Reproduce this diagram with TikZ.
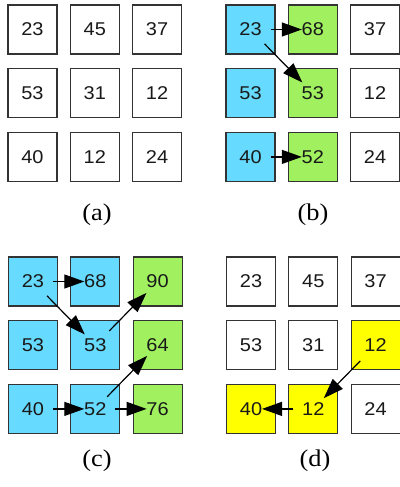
\documentclass[tikz,border=0pt]{standalone}
\usepackage{fontspec}
\setsansfont{Liberation Sans}[FakeStretch=1.08]
\setmainfont{Liberation Serif}[FakeStretch=1.1]
\usetikzlibrary{arrows.meta}
\definecolor{cyanbox}{RGB}{102,218,255}
\definecolor{greenbox}{RGB}{160,240,96}
\definecolor{yellowbox}{RGB}{255,255,0}
\definecolor{bordergray}{RGB}{51,51,51}
\tikzset{
  cell/.style={draw=bordergray, line width=1.1pt, minimum size=49pt, inner sep=0pt,
    font=\fontsize{18.5}{18.5}\selectfont\sffamily, text=black!90},
  cy/.style={cell, fill=cyanbox},
  gr/.style={cell, fill=greenbox},
  ye/.style={cell, fill=yellowbox},
  wh/.style={cell, fill=white},
  arr/.style={line width=1.2pt, -{Triangle[length=20pt,width=14pt]}, shorten <=20pt, shorten >=11pt},
  lbl/.style={font=\fontsize{24}{24}\selectfont\rmfamily}
}
\begin{document}
\begin{tikzpicture}[x=1pt,y=-1pt]
\useasboundingbox[fill=white] (0,0) rectangle (399,487);
% panel (a)
\begin{scope}[shift={(32.5,29.5)}]
\node[wh] (a11) at (0,0) {23};
\node[wh] (a12) at (62.3,0) {45};
\node[wh] (a13) at (124.6,0) {37};
\node[wh] (a21) at (0,63.7) {53};
\node[wh] (a22) at (62.3,63.7) {31};
\node[wh] (a23) at (124.6,63.7) {12};
\node[wh] (a31) at (0,127.4) {40};
\node[wh] (a32) at (62.3,127.4) {12};
\node[wh] (a33) at (124.6,127.4) {24};
\end{scope}
\node[lbl] (la) at (97,215) {(a)};
% panel (b)
\begin{scope}[shift={(250.5,29.5)}]
\node[cy] (b11) at (0,0) {23};
\node[gr] (b12) at (62.3,0) {68};
\node[wh] (b13) at (124.6,0) {37};
\node[cy] (b21) at (0,63.7) {53};
\node[gr] (b22) at (62.3,63.7) {53};
\node[wh] (b23) at (124.6,63.7) {12};
\node[cy] (b31) at (0,127.4) {40};
\node[gr] (b32) at (62.3,127.4) {52};
\node[wh] (b33) at (124.6,127.4) {24};
\end{scope}
\node[lbl] (lb) at (313,215) {(b)};
\draw[arr] (b11.center) -- (b12.center);
\draw[arr, shorten >=15pt] (b11.center) -- (b22.center);
\draw[arr] (b31.center) -- (b32.center);
% panel (c)
\begin{scope}[shift={(33,281.5)}]
\node[cy] (c11) at (0,0) {23};
\node[cy] (c12) at (62.3,0) {68};
\node[gr] (c13) at (124.6,0) {90};
\node[cy] (c21) at (0,63.7) {53};
\node[cy] (c22) at (62.3,63.7) {53};
\node[gr] (c23) at (124.6,63.7) {64};
\node[cy] (c31) at (0,127.4) {40};
\node[cy] (c32) at (62.3,127.4) {52};
\node[gr] (c33) at (124.6,127.4) {76};
\end{scope}
\node[lbl] (lc) at (97,461) {(c)};
\draw[arr] (c11.center) -- (c12.center);
\draw[arr, shorten >=15pt] (c11.center) -- (c22.center);
\draw[arr] (c31.center) -- (c32.center);
\draw[arr] (c32.center) -- (c33.center);
\draw[arr, shorten <=17pt, shorten >=15pt] (c32.center) -- (c23.center);
\draw[arr, shorten >=16pt] (c22.center) -- (c13.center);
% panel (d)
\begin{scope}[shift={(251,281.5)}]
\node[wh] (d11) at (0,0) {23};
\node[wh] (d12) at (62.3,0) {45};
\node[wh] (d13) at (124.6,0) {37};
\node[wh] (d21) at (0,63.7) {53};
\node[wh] (d22) at (62.3,63.7) {31};
\node[ye] (d23) at (124.6,63.7) {12};
\node[ye] (d31) at (0,127.4) {40};
\node[ye] (d32) at (62.3,127.4) {12};
\node[wh] (d33) at (124.6,127.4) {24};
\end{scope}
\node[lbl] (ld) at (315,461) {(d)};
\draw[arr, shorten <=22pt, shorten >=15pt] (d23.center) -- (d32.center);
\draw[arr, shorten >=11pt] (d32.center) -- (d31.center);
\end{tikzpicture}
\end{document}
